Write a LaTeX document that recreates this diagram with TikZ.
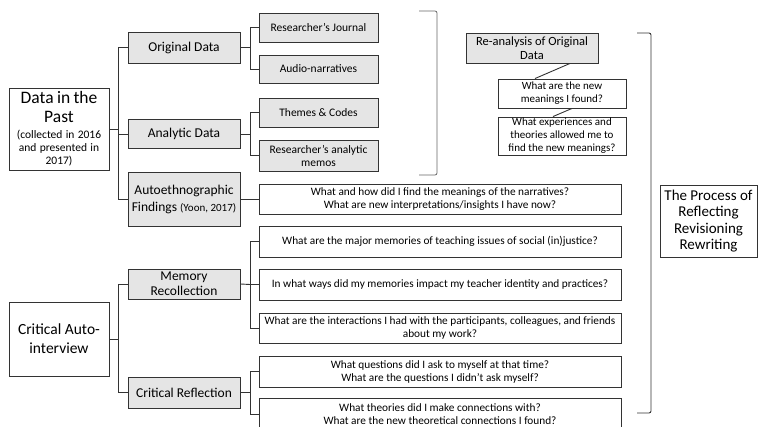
\documentclass[tikz,border=0pt]{standalone}
\usepackage{fontspec}
\setmainfont{Carlito}
\usepackage{tikz}

\begin{document}
\begin{tikzpicture}[x=1pt,y=-1pt,
    main_node/.style={rectangle,draw=black!80,line width=0.9pt,fill=white,inner sep=1pt,align=center},
    grey_node/.style={main_node,fill=black!10},
    question_node/.style={main_node,minimum width=362pt,font=\fontsize{11.3}{13}\selectfont},
    bracket_line/.style={draw=black!60,line width=0.8pt,rounded corners=2pt},
    tree_line/.style={draw=black!80,line width=0.9pt}]

    \useasboundingbox (0,0) rectangle (758,427);

    % data in the past
    \node[main_node,minimum width=100pt,minimum height=82pt,text width=96pt] (1) at (59,129)
        {{\fontsize{17.5}{19}\selectfont Data in the\\Past\par}\vspace{3pt}{\fontsize{11.5}{13}\selectfont (collected in 2016\\and presented in\\2017)\par}};
    \node[grey_node,minimum width=112pt,minimum height=31pt,font=\fontsize{13.5}{15}\selectfont] (2) at (184,47.5) {Original Data};
    \node[grey_node,minimum width=112pt,minimum height=29pt,font=\fontsize{13.5}{15}\selectfont] (3) at (184,134) {Analytic Data};
    \node[grey_node,minimum width=112pt,minimum height=54pt,font=\fontsize{13.5}{17}\selectfont] (4) at (184,199)
        {Autoethnographic\\Findings {\fontsize{11}{13}\selectfont(Yoon, 2017)}};

    \node[grey_node,minimum width=119pt,minimum height=29pt,font=\fontsize{11.5}{13}\selectfont] (5) at (318.5,27.5) {Researcher's Journal};
    \node[grey_node,minimum width=119pt,minimum height=28pt,font=\fontsize{11.5}{13}\selectfont] (6) at (318.5,69) {Audio-narratives};
    \node[grey_node,minimum width=119pt,minimum height=29pt,font=\fontsize{11.5}{13}\selectfont] (7) at (318.5,112.5) {Themes \& Codes};
    \node[grey_node,minimum width=119pt,minimum height=31pt,font=\fontsize{11.5}{13}\selectfont] (8) at (318.5,155.5) {Researcher's analytic\\memos};

    \node[question_node,minimum height=30pt] (9) at (440,199)
        {What and how did I find the meanings of the narratives?\\What are new interpretations/insights I have now?};

    % re-analysis
    \node[grey_node,minimum width=132pt,minimum height=30pt,font=\fontsize{12.5}{14}\selectfont] (10) at (532,48) {Re-analysis of Original\\Data};
    \node[main_node,minimum width=128pt,minimum height=29pt,font=\fontsize{11}{13}\selectfont] (11) at (562,93.5) {What are the new\\meanings I found?};
    \node[main_node,minimum width=128pt,minimum height=38pt,font=\fontsize{11}{13}\selectfont] (12) at (562,136) {What experiences and\\theories allowed me to\\find the new meanings?};

    \node[main_node,minimum width=97pt,minimum height=72pt,font=\fontsize{15}{16.5}\selectfont] (13) at (708.5,221)
        {The Process of\\Reflecting\\Revisioning\\Rewriting};

    % critical auto-interview
    \node[main_node,minimum width=100pt,minimum height=74pt,font=\fontsize{15.5}{19}\selectfont] (14) at (59,339) {Critical Auto-\\interview};
    \node[grey_node,minimum width=112pt,minimum height=30pt,font=\fontsize{13.5}{15}\selectfont] (15) at (184,284) {Memory\\Recollection};
    \node[grey_node,minimum width=112pt,minimum height=31pt,font=\fontsize{13.5}{15}\selectfont] (16) at (184,392.5) {Critical Reflection};

    \node[question_node,minimum height=31pt] (17) at (440,241.5) {What are the major memories of teaching issues of social (in)justice?};
    \node[question_node,minimum height=31pt] (18) at (440,284.5) {In what ways did my memories impact my teacher identity and practices?};
    \node[question_node,minimum height=30pt] (19) at (440,328)
        {What are the interactions I had with the participants, colleagues, and friends\\about my work?};
    \node[question_node,minimum height=31pt] (20) at (440,371.5)
        {What questions did I ask to myself at that time?\\What are the questions I didn't ask myself?};
    \node[question_node,minimum height=32pt] (21) at (440,414)
        {What theories did I make connections with?\\What are the new theoretical connections I found?};

    % forks
    \coordinate (t1) at (118,129);
    \coordinate (t2) at (118,339);
    \coordinate (f1) at (250,47.5);
    \coordinate (f2) at (250,134);
    \coordinate (f3) at (250,284.5);
    \coordinate (f4) at (250,392.5);

    \draw[tree_line] (1.east) -- (t1);
    \draw[tree_line] (t1) |- (2.west);
    \draw[tree_line] (t1) |- (3.west);
    \draw[tree_line] (t1) |- (4.west);
    \draw[tree_line] (2.east) -- (f1);
    \draw[tree_line] (f1) |- (5.west);
    \draw[tree_line] (f1) |- (6.west);
    \draw[tree_line] (3.east) -- (f2);
    \draw[tree_line] (f2) |- (7.west);
    \draw[tree_line] (f2) |- (8.west);
    \draw[tree_line] (4.east) -- (9.west);

    \draw[tree_line] ([xshift=38pt]10.south) -- ([xshift=-27pt]11.north);
    \draw[tree_line] ([xshift=10pt]11.south) -- ([xshift=-9pt]12.north);

    \draw[tree_line] (14.east) -- (t2);
    \draw[tree_line] (t2) |- (15.west);
    \draw[tree_line] (t2) |- (16.west);
    \draw[tree_line] (15.east) -- (f3);
    \draw[tree_line] (f3) |- (17.west);
    \draw[tree_line] (f3) |- (18.west);
    \draw[tree_line] (f3) |- (19.west);
    \draw[tree_line] (16.east) -- (f4);
    \draw[tree_line] (f4) |- (20.west);
    \draw[tree_line] (f4) |- (21.west);

    % brackets
    \draw[bracket_line] (419,11) -- (437,11) -- (437,175) -- (419,175);
    \draw[bracket_line,draw=black!80,line width=0.9pt] (637,33) -- (651,33) -- (651,413) -- (637,413);

\end{tikzpicture}
\end{document}
